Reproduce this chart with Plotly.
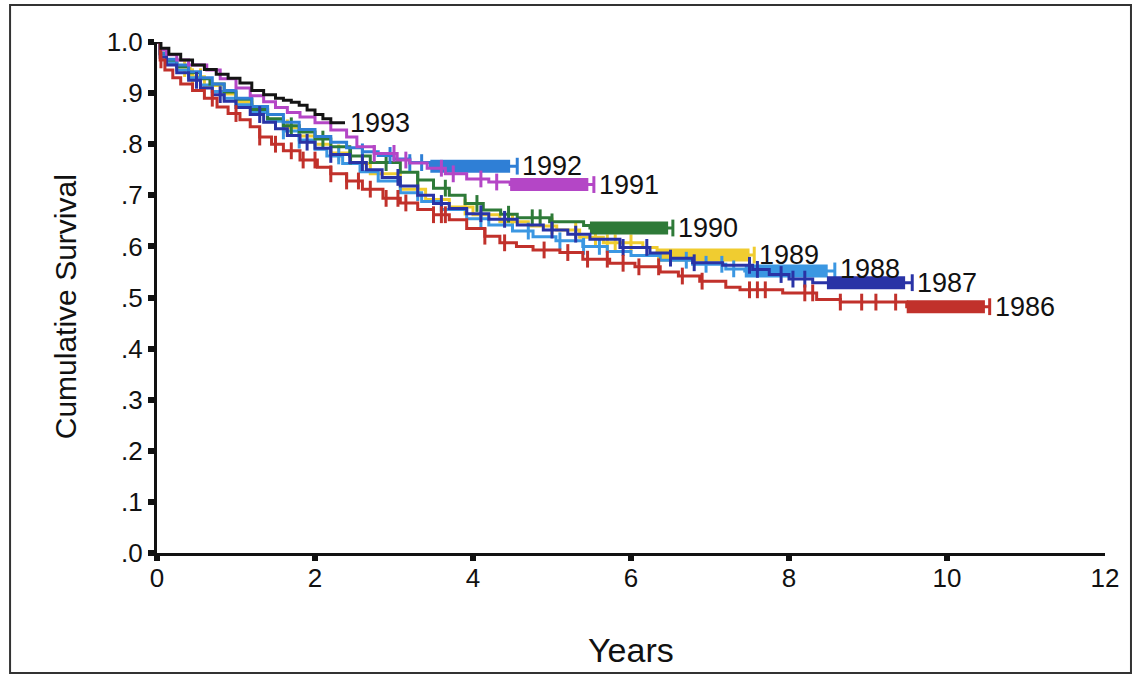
import plotly.graph_objects as go

# Kaplan-Meier survival by year of diagnosis: step times (years) and cumulative survival
years = ["1993", "1992", "1991", "1990", "1989", "1988", "1987", "1986"]

t_1993 = [0, 0.05, 0.15, 0.3, 0.45, 0.6, 0.75, 0.9, 1.05, 1.2, 1.35, 1.5, 1.6, 1.7, 1.8, 1.9, 2.0, 2.1, 2.2]
s_1993 = [1.0, 0.988, 0.976, 0.965, 0.955, 0.946, 0.937, 0.929, 0.92, 0.905, 0.897, 0.89, 0.886, 0.882, 0.876, 0.867, 0.858, 0.85, 0.842]

t_1992 = [0, 0.04, 0.12, 0.25, 0.4, 0.55, 0.7, 0.85, 1.0, 1.2, 1.4, 1.6, 1.8, 2.0, 2.2, 2.4, 2.6, 2.8, 3.0, 3.2, 3.46]
s_1992 = [1.0, 0.978, 0.966, 0.955, 0.942, 0.93, 0.918, 0.905, 0.89, 0.874, 0.858, 0.843, 0.829, 0.815, 0.804, 0.793, 0.785, 0.778, 0.771, 0.764, 0.757]

t_1991 = [0, 0.04, 0.12, 0.25, 0.4, 0.63, 0.8, 1.0, 1.18, 1.35, 1.5, 1.65, 1.81, 2.0, 2.2, 2.4, 2.53, 2.75, 3.04, 3.2, 3.42, 3.65, 3.92, 4.2, 4.47]
s_1991 = [1.0, 0.985, 0.975, 0.965, 0.955, 0.945, 0.928, 0.91, 0.895, 0.883, 0.872, 0.862, 0.853, 0.842, 0.828, 0.814, 0.795, 0.782, 0.769, 0.763, 0.753, 0.742, 0.732, 0.726, 0.721]

t_1990 = [0, 0.04, 0.12, 0.25, 0.4, 0.55, 0.67, 0.85, 1.0, 1.2, 1.4, 1.6, 1.8, 2.0, 2.2, 2.44, 2.7, 3.08, 3.3, 3.5, 3.7, 3.9, 4.13, 4.35, 4.56, 4.97, 5.4, 5.48]
s_1990 = [1.0, 0.978, 0.965, 0.952, 0.94, 0.928, 0.918, 0.902, 0.888, 0.868, 0.85, 0.836, 0.824, 0.81, 0.795, 0.777, 0.764, 0.745, 0.73, 0.714, 0.7, 0.684, 0.671, 0.663, 0.656, 0.648, 0.641, 0.636]

t_1989 = [0, 0.04, 0.12, 0.25, 0.42, 0.6, 0.8, 1.0, 1.2, 1.4, 1.6, 1.8, 2.0, 2.2, 2.45, 2.7, 3.08, 3.4, 3.7, 4.0, 4.34, 4.7, 5.06, 5.35, 5.65, 6.15, 6.33]
s_1989 = [1.0, 0.978, 0.962, 0.948, 0.932, 0.915, 0.898, 0.882, 0.865, 0.848, 0.832, 0.816, 0.8, 0.783, 0.762, 0.742, 0.712, 0.692, 0.677, 0.662, 0.648, 0.64, 0.632, 0.618, 0.607, 0.598, 0.583]

t_1988 = [0, 0.04, 0.12, 0.25, 0.4, 0.55, 0.7, 0.85, 1.0, 1.2, 1.4, 1.6, 1.8, 2.0, 2.15, 2.35, 2.57, 2.8, 3.08, 3.35, 3.6, 3.92, 4.2, 4.5, 4.76, 5.05, 5.39, 5.7, 6.0, 6.37, 6.78, 7.2, 7.44]
s_1988 = [1.0, 0.975, 0.96, 0.945, 0.93, 0.916, 0.903, 0.89, 0.877, 0.862, 0.845, 0.826, 0.808, 0.79, 0.777, 0.762, 0.746, 0.728, 0.705, 0.688, 0.672, 0.654, 0.642, 0.63, 0.619, 0.611, 0.6, 0.59, 0.582, 0.573, 0.565, 0.556, 0.552]

t_1987 = [0, 0.04, 0.12, 0.25, 0.4, 0.55, 0.7, 0.85, 1.0, 1.18, 1.35, 1.5, 1.65, 1.81, 2.0, 2.2, 2.44, 2.65, 2.85, 3.08, 3.3, 3.5, 3.7, 3.92, 4.2, 4.56, 4.89, 5.2, 5.48, 5.86, 6.24, 6.5, 6.78, 7.16, 7.54, 7.75, 8.0, 8.3]
s_1987 = [1.0, 0.97, 0.955, 0.94, 0.925, 0.91, 0.897, 0.884, 0.872, 0.858, 0.843, 0.83, 0.817, 0.804, 0.792, 0.78, 0.764, 0.75, 0.735, 0.718, 0.7, 0.684, 0.674, 0.664, 0.653, 0.642, 0.632, 0.624, 0.614, 0.598, 0.587, 0.577, 0.568, 0.563, 0.555, 0.545, 0.536, 0.529]

t_1986 = [0, 0.04, 0.1, 0.2, 0.3, 0.45, 0.6, 0.76, 0.9, 1.05, 1.18, 1.3, 1.45, 1.6, 1.81, 2.03, 2.2, 2.4, 2.6, 2.86, 3.08, 3.3, 3.5, 3.7, 3.92, 4.15, 4.34, 4.55, 4.76, 5.1, 5.39, 5.73, 6.05, 6.37, 6.6, 6.87, 7.2, 7.38, 7.92, 8.35, 8.65, 9.49]
s_1986 = [1.0, 0.965, 0.945, 0.93, 0.918, 0.905, 0.89, 0.873, 0.86, 0.848, 0.834, 0.814, 0.8, 0.787, 0.769, 0.755, 0.742, 0.728, 0.712, 0.694, 0.685, 0.672, 0.662, 0.652, 0.635, 0.62, 0.607, 0.6, 0.593, 0.588, 0.575, 0.567, 0.56, 0.55, 0.542, 0.532, 0.52, 0.515, 0.509, 0.496, 0.491, 0.482]

# end of follow-up per cohort (years)
end_time = [2.38, 4.56, 5.53, 6.53, 7.56, 8.58, 9.56, 10.54]
# interval of dense administrative censoring at the end of follow-up
band_start = [None, 3.46, 4.47, 5.48, 6.33, 7.44, 8.48, 9.49]
band_end = [None, 4.47, 5.46, 6.47, 7.5, 8.49, 9.47, 10.48]

# individual censored observations
c_1993 = []
c_1992 = [2.6, 2.95, 3.2, 3.35]
c_1991 = [2.75, 3.0, 3.15, 3.6, 3.75, 4.1, 4.3]
c_1990 = [1.7, 2.1, 2.45, 2.9, 3.3, 3.65, 4.05, 4.45, 4.75, 4.85, 5.0]
c_1989 = [0.35, 0.45, 0.55, 1.65, 2.3, 3.3, 3.9, 4.5, 5.0, 5.3, 5.55, 5.7, 5.8, 6.0]
c_1988 = [1.6, 1.8, 2.3, 3.3, 4.1, 4.7, 5.1, 5.4, 5.6, 6.7, 6.95, 7.15, 7.3]
c_1987 = [0.5, 0.8, 1.3, 1.9, 2.2, 2.6, 3.05, 3.6, 4.1, 4.4, 5.0, 5.3, 5.9, 6.2, 6.5, 6.8, 7.5, 7.6, 7.9, 8.05, 8.2]
c_1986 = [0.05, 0.7, 1.0, 1.3, 1.5, 1.7, 1.85, 2.0, 2.2, 2.4, 2.55, 2.7, 2.9, 3.05, 3.15, 3.5, 3.6, 3.65,
          4.15, 4.4, 4.9, 5.2, 5.45, 5.7, 5.9, 6.1, 6.35, 6.65, 6.9, 7.5, 7.6, 7.7, 8.2, 8.3, 8.65, 8.92, 9.1, 9.35]

colors = ["#141414", "#2f7fd6", "#b446c6", "#2e7a38", "#f0cc30", "#3b97e2", "#2933a6", "#c1312b"]

series = {
    "1993": (t_1993, s_1993, c_1993),
    "1992": (t_1992, s_1992, c_1992),
    "1991": (t_1991, s_1991, c_1991),
    "1990": (t_1990, s_1990, c_1990),
    "1989": (t_1989, s_1989, c_1989),
    "1988": (t_1988, s_1988, c_1988),
    "1987": (t_1987, s_1987, c_1987),
    "1986": (t_1986, s_1986, c_1986),
}


def surv_at(times, surv, t):
    """Value of the survival step function at time t."""
    val = surv[0]
    for ti, si in zip(times, surv):
        if ti <= t:
            val = si
        else:
            break
    return val


fig = go.Figure()
draw_order = ["1989", "1988", "1990", "1992", "1991", "1987", "1986", "1993"]
annotations = []
for yr in draw_order:
    i = years.index(yr)
    times, surv, cens = series[yr]
    col = colors[i]
    fig.add_trace(go.Scatter(
        x=times + [end_time[i]], y=surv + [surv[-1]], mode="lines",
        line=dict(color=col, width=3, shape="hv"), hoverinfo="skip", showlegend=False))
    if band_start[i] is not None:
        fig.add_trace(go.Scatter(
            x=[band_start[i], band_end[i]], y=[surv[-1], surv[-1]], mode="lines",
            line=dict(color=col, width=13), hoverinfo="skip", showlegend=False))
    marks = cens + ([end_time[i]] if band_start[i] is not None else [])
    if marks:
        fig.add_trace(go.Scatter(
            x=marks, y=[surv_at(times, surv, c) for c in marks], mode="markers",
            marker=dict(symbol="line-ns", size=12, line=dict(color=col, width=3)),
            cliponaxis=False, hoverinfo="skip", showlegend=False))
    annotations.append(dict(
        x=end_time[i], y=surv[-1], xref="x", yref="y", text=yr, showarrow=False,
        xanchor="left", yanchor="middle", xshift=3, yshift=2 if yr == "1988" else 0,
        font=dict(family="Liberation Sans, Arial, sans-serif", size=27, color="#111")))

# carrier trace for the tick-mark axis
fig.add_trace(go.Scatter(x=[0], y=[0], xaxis="x2", mode="markers",
                         marker=dict(opacity=0), hoverinfo="skip", showlegend=False))

font_family = "Liberation Sans, Arial, sans-serif"

annotations.append(dict(x=-0.097, y=0.481, xref="paper", yref="paper", text="Cumulative Survival",
                        textangle=-90, showarrow=False, xanchor="center", yanchor="middle",
                        font=dict(family=font_family, size=30, color="#111")))
annotations.append(dict(x=0.5, y=-0.19, xref="paper", yref="paper", text="Years",
                        showarrow=False, xanchor="center", yanchor="middle",
                        font=dict(family=font_family, size=34, color="#111")))

y_ticks = [0, 0.1, 0.2, 0.3, 0.4, 0.5, 0.6, 0.7, 0.8, 0.9, 1.0]
y_labels = [".0", ".1", ".2", ".3", ".4", ".5", ".6", ".7", ".8", ".9", "1.0"]
x_ticks = [0, 2, 4, 6, 8, 10, 12]

fig.update_layout(
    width=1136, height=676,
    margin=dict(l=157, r=31, t=42, b=123),
    paper_bgcolor="white", plot_bgcolor="white",
    showlegend=False,
    xaxis=dict(range=[0, 12], tickvals=x_ticks, ticktext=[str(v) for v in x_ticks],
               ticks="", showline=True, linewidth=3, linecolor="#111", showgrid=False,
               zeroline=False, tickfont=dict(family=font_family, size=26, color="#111")),
    xaxis2=dict(range=[0, 12], overlaying="x", anchor="y", side="bottom",
                tickvals=[0, 2, 4, 6, 8, 10], ticks="outside", ticklen=7, tickwidth=6,
                tickcolor="#111", showticklabels=False, showline=False, showgrid=False,
                zeroline=False),
    yaxis=dict(range=[0, 1.0], tickvals=y_ticks, ticktext=y_labels, ticks="outside",
               ticklen=6, tickwidth=6, tickcolor="#111", showline=True, linewidth=3,
               linecolor="#111", showgrid=False, zeroline=False,
               tickfont=dict(family=font_family, size=26, color="#111")),
    annotations=annotations,
    shapes=[dict(type="rect", xref="paper", yref="paper", x0=-0.155, x1=1.0274,
                 y0=-0.2348, y1=1.0724, line=dict(color="#333", width=2))],
)

fig.write_html("out.html")
